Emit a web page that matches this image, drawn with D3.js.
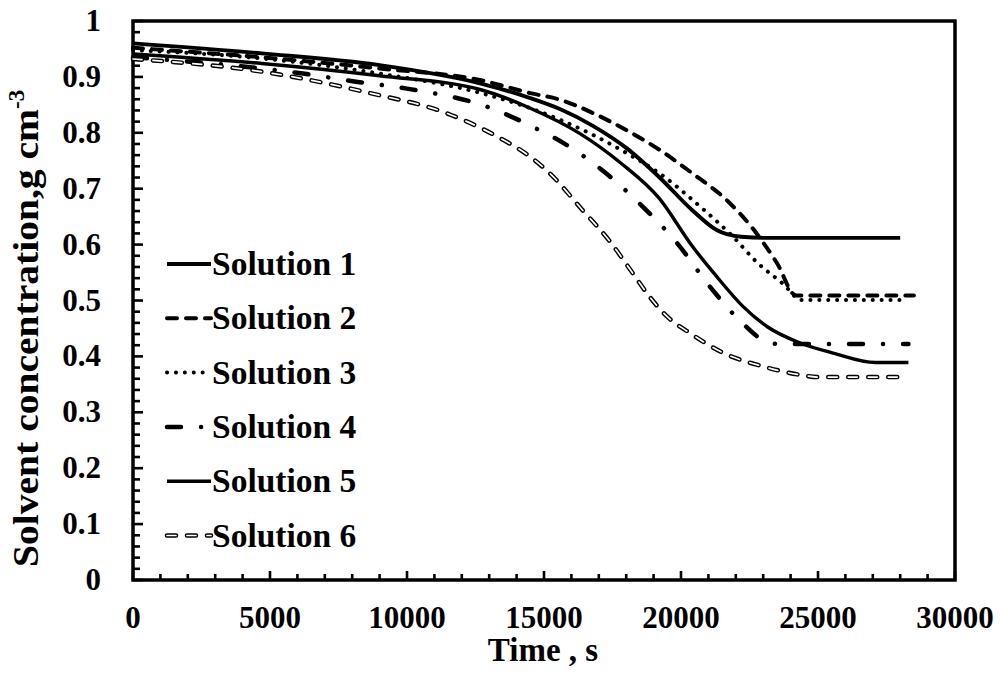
<!DOCTYPE html>
<html>
<head>
<meta charset="utf-8">
<script src="https://cdn.jsdelivr.net/npm/d3@7"></script>
<style>
  html, body { margin: 0; padding: 0; background: #fff; }
  svg text { font-family: "Liberation Serif", "Times New Roman", serif; font-weight: bold; fill: #000; }
</style>
</head>
<body>
<svg id="chart" width="1000" height="688"></svg>
<script>
// Solvent concentration (g cm^-3) against time (s) for six solutions: [time, concentration]
const solution1 = [[0,0.960],[4700,0.942],[9000,0.921],[12700,0.888],[14500,0.862],[15600,0.842],[16800,0.812],[18000,0.773],[19200,0.721],[20400,0.662],[21300,0.626],[22200,0.614],[23200,0.612],[28000,0.612]];
const solution2 = [[0,0.952],[4700,0.935],[9000,0.915],[12700,0.894],[14500,0.871],[15600,0.859],[16800,0.835],[18000,0.805],[19200,0.770],[20400,0.728],[21700,0.678],[22600,0.630],[23500,0.567],[24200,0.509],[28500,0.509]];
const solution3 = [[0,0.948],[4700,0.933],[9000,0.906],[12700,0.871],[14500,0.844],[15600,0.823],[16800,0.796],[18000,0.764],[19200,0.728],[20700,0.668],[21900,0.614],[22800,0.567],[23700,0.531],[24400,0.501],[28100,0.501]];
const solution4 = [[0,0.935],[6200,0.906],[8200,0.891],[10000,0.879],[12900,0.847],[14700,0.808],[15700,0.782],[17150,0.732],[18600,0.668],[19850,0.603],[21050,0.525],[22250,0.459],[23000,0.429],[23600,0.422],[28300,0.422]];
const solution5 = [[0,0.941],[4700,0.924],[9000,0.902],[12700,0.877],[14500,0.844],[16300,0.799],[17800,0.746],[19200,0.683],[20400,0.598],[21300,0.543],[22250,0.490],[23150,0.453],[24350,0.424],[25550,0.406],[27100,0.389],[28300,0.389]];
const solution6 = [[0,0.932],[4750,0.909],[8650,0.871],[11450,0.835],[13300,0.793],[14500,0.757],[15200,0.728],[16400,0.662],[17400,0.606],[18150,0.555],[18850,0.507],[19500,0.471],[20350,0.441],[21550,0.406],[23000,0.382],[24350,0.367],[25000,0.363],[28100,0.363]];

const seriesNames = ["Solution 1","Solution 2","Solution 3","Solution 4","Solution 5","Solution 6"];
const xTickValues = [0,5000,10000,15000,20000,25000,30000];
const yTickValues = [0,0.1,0.2,0.3,0.4,0.5,0.6,0.7,0.8,0.9,1];
const yTickLabels = ["0","0.1","0.2","0.3","0.4","0.5","0.6","0.7","0.8","0.9","1"];

// line styles for each series
const styles = [
  { w: 3.9, dash: null, cap: "butt" },
  { w: 4, dash: "10 9", cap: "round" },
  { w: 4, dash: "0.1 8.8", cap: "round" },
  { w: 4.5, dash: "14 20 0.1 20", cap: "round" },
  { w: 3.4, dash: null, cap: "butt" },
  { w: 4.5, dash: "9 11", cap: "round", hollow: true }
];

const svg = d3.select("#chart");
const margin = { left: 133, right: 45, top: 21, bottom: 108 };
const W = 1000, H = 688;

const x = d3.scaleLinear().domain([0, 30000]).range([margin.left, W - margin.right]);
const y = d3.scaleLinear().domain([0, 1]).range([H - margin.bottom, margin.top]);

const line = d3.line().x(d => x(d[0])).y(d => y(d[1])).curve(d3.curveMonotoneX);

function drawStyled(g, pathD, s) {
  const p = g.append("path").attr("d", pathD).attr("fill", "none")
    .attr("stroke", "#000").attr("stroke-width", s.w)
    .attr("stroke-linecap", s.cap).attr("stroke-linejoin", "round");
  if (s.dash) p.attr("stroke-dasharray", s.dash);
  if (s.hollow) {
    g.append("path").attr("d", pathD).attr("fill", "none")
      .attr("stroke", "#fff").attr("stroke-width", 1.7)
      .attr("stroke-linecap", "round").attr("stroke-dasharray", s.dash);
  }
}

// axis ticks, pointing into the plot
const gx = svg.append("g");
d3.range(0, 30001, 1000).forEach(v => {
  const major = v % 5000 === 0;
  gx.append("line").attr("x1", x(v)).attr("x2", x(v))
    .attr("y1", y(0)).attr("y2", y(0) - (major ? 9 : 6))
    .attr("stroke", "#000").attr("stroke-width", 2.6);
});
d3.range(0, 51).forEach(i => {
  const v = i * 0.02;
  const major = i % 5 === 0;
  gx.append("line").attr("x1", x(0)).attr("x2", x(0) + (major ? 10 : 7))
    .attr("y1", y(v)).attr("y2", y(v))
    .attr("stroke", "#000").attr("stroke-width", 2.6);
});

// plot frame
svg.append("rect").attr("x", x(0)).attr("y", y(1))
  .attr("width", x(30000) - x(0)).attr("height", y(0) - y(1))
  .attr("fill", "none").attr("stroke", "#000").attr("stroke-width", 3.5);

// tick labels
svg.append("g").selectAll("text").data(xTickValues).join("text")
  .attr("x", d => x(d)).attr("y", y(0) + 48)
  .attr("text-anchor", "middle").attr("font-size", 31)
  .text(d => d);
svg.append("g").selectAll("text").data(yTickValues).join("text")
  .attr("x", x(0) - 32).attr("y", d => y(d) + 10)
  .attr("text-anchor", "end").attr("font-size", 31)
  .text((d, i) => yTickLabels[i]);

// axis titles
svg.append("text").attr("x", 543).attr("y", 661).attr("text-anchor", "middle")
  .attr("font-size", 33).text("Time , s");
const yl = svg.append("text").attr("transform", "translate(38,567) rotate(-90)")
  .attr("text-anchor", "start").attr("font-size", 35);
yl.append("tspan").attr("textLength", 458).attr("lengthAdjust", "spacingAndGlyphs")
  .text("Solvent concentration,g cm");
yl.append("tspan").attr("dy", -14).attr("font-size", 23).text("-3");

// data series
const allSeries = [solution1, solution2, solution3, solution4, solution5, solution6];
const plot = svg.append("g");
allSeries.forEach((data, i) => drawStyled(plot, line(data), styles[i]));

// legend
const legend = svg.append("g");
seriesNames.forEach((name, i) => {
  const ly = 264 + i * 54.3;
  drawStyled(legend, `M167,${ly}L211,${ly}`, styles[i]);
  legend.append("text").attr("x", 212).attr("y", ly + 11)
    .attr("font-size", 33.5).text(name);
});
</script>
</body>
</html>
